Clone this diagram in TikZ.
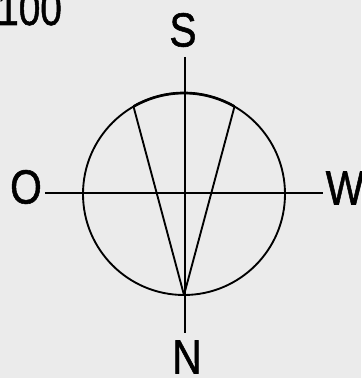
\documentclass[tikz,border=0pt]{standalone}
\usepackage{fontspec}
\setmainfont{Liberation Sans}[FakeBold=1.2]
\begin{document}
\begin{tikzpicture}[x=0.75pt,y=0.75pt,
    pole/.style={inner sep=0pt,font=\fontsize{36}{36}\selectfont,xscale=0.85},
    thin line/.style={draw=black,line width=1.4pt}]
                %%%  Frame and grey paper
                \path [fill=black!8,use as bounding box] (-184,-184) rectangle (177,194);
                %%%  Page number in the corner
                \node [pole,anchor=base west,xscale=0.95] (page) at (-187,169) {100};
                %%%  Compass letters
                \node [pole] (S) at (-1,164) {S};
                \node [pole] (N) at (3,-163) {N};
                \node [pole] (O) at (-158,7) {O};
                \node [pole] (W) at (161,6) {W};
                %%%  Ends of the cross
                \coordinate (c) at (0,0);
                \coordinate (top) at (1,137);
                \coordinate (bottom) at (1,-139);
                \coordinate (left) at (-139,1);
                \coordinate (right) at (139,1);
                %%%  Points on the circle
                \coordinate (p1) at (120:101);
                \coordinate (p2) at (60:101);
                \coordinate (foot) at (270:101);
                %%%  Circle, with the top arc a little heavier
                \draw [thin line] (c) circle (101);
                \draw [draw=black,line width=2pt] (p2) arc (60:120:101);
                %%%  Cross
                \draw [thin line] (top) -- (bottom);
                \draw [thin line] (left) -- (right);
                %%%  Wedge from the foot
                \draw [thin line] (foot) -- (p1);
                \draw [thin line] (foot) -- (p2);
                % Note: letters sit outside the ends of the cross.
\end{tikzpicture}
\end{document}
